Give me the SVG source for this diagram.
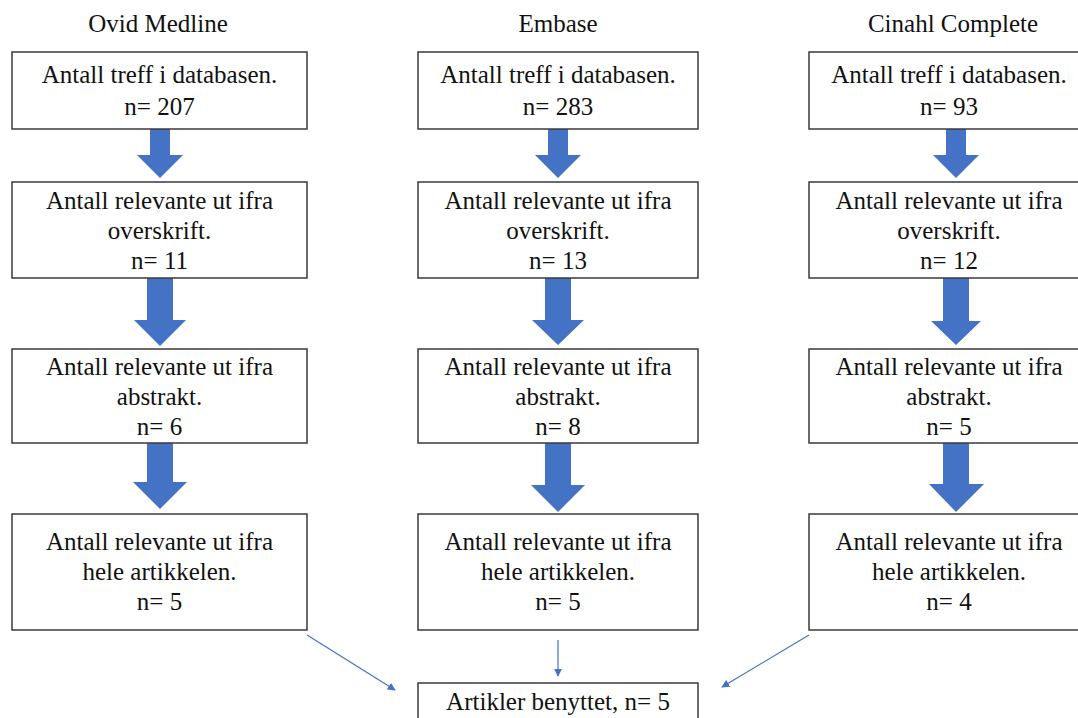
<svg xmlns="http://www.w3.org/2000/svg" width="1078" height="718" viewBox="0 0 1078 718">
<style>
.box{fill:#fff;stroke:#3a3a3a;stroke-width:1.5}
.t{font-family:'Liberation Serif','Times New Roman',serif;font-size:25px;fill:#111;text-anchor:middle}
.arr{fill:#4472C4}
.con{stroke:#4472C4;stroke-width:1.2;fill:none;marker-end:url(#ah)}
</style>
<defs>
<marker id="ah" viewBox="0 0 10 10" refX="9" refY="5" markerWidth="8" markerHeight="8" markerUnits="userSpaceOnUse" orient="auto">
<path d="M0,0 L10,5 L0,10 z" fill="#4472C4"/>
</marker>
</defs>
<rect width="1078" height="718" fill="#fff"/>
<g id="titles">
<text class="t" x="158" y="32">Ovid Medline</text>
<text class="t" x="558" y="32">Embase</text>
<text class="t" x="953" y="32">Cinahl Complete</text>
</g>
<g id="arrows">
<polygon class="arr" points="150,129 170,129 170,155 183,155 160,178 137,155 150,155"/>
<polygon class="arr" points="147,278 173,278 173,320 186,320 160,346 134,320 147,320"/>
<polygon class="arr" points="147,443 173,443 173,482 187,482 160,509 133,482 147,482"/>
<polygon class="arr" points="548,129 568,129 568,155 581,155 558,178 535,155 548,155"/>
<polygon class="arr" points="545,278 571,278 571,320 584,320 558,345 532,320 545,320"/>
<polygon class="arr" points="545,443 571,443 571,485 585,485 558,512 531,485 545,485"/>
<polygon class="arr" points="946,129 966,129 966,155 979,155 956,178 933,155 946,155"/>
<polygon class="arr" points="943,278 969,278 969,321 981,321 956,345 931,321 943,321"/>
<polygon class="arr" points="943,443 969,443 969,484 984,484 956,512 929,484 943,484"/>
</g>
<g id="connectors">
<line class="con" x1="307" y1="635" x2="395" y2="690"/>
<line class="con" x1="558" y1="640" x2="558" y2="676"/>
<line class="con" x1="809" y1="635" x2="722" y2="687"/>
</g>
<g id="medline-1"><rect class="box" x="12" y="52" width="295" height="77"/><text class="t" x="159.5" y="83">Antall treff i databasen.</text><text class="t" x="159.5" y="115">n= 207</text></g>
<g id="medline-2"><rect class="box" x="12" y="182" width="295" height="96"/><text class="t" x="159.5" y="209">Antall relevante ut ifra</text><text class="t" x="159.5" y="239">overskrift.</text><text class="t" x="159.5" y="269">n= 11</text></g>
<g id="medline-3"><rect class="box" x="12" y="349" width="295" height="94"/><text class="t" x="159.5" y="375">Antall relevante ut ifra</text><text class="t" x="159.5" y="405">abstrakt.</text><text class="t" x="159.5" y="435">n= 6</text></g>
<g id="medline-4"><rect class="box" x="12" y="514" width="295" height="116"/><text class="t" x="159.5" y="550">Antall relevante ut ifra</text><text class="t" x="159.5" y="580">hele artikkelen.</text><text class="t" x="159.5" y="610">n= 5</text></g>
<g id="embase-1"><rect class="box" x="418" y="52" width="280" height="77"/><text class="t" x="558" y="83">Antall treff i databasen.</text><text class="t" x="558" y="115">n= 283</text></g>
<g id="embase-2"><rect class="box" x="418" y="182" width="280" height="96"/><text class="t" x="558" y="209">Antall relevante ut ifra</text><text class="t" x="558" y="239">overskrift.</text><text class="t" x="558" y="269">n= 13</text></g>
<g id="embase-3"><rect class="box" x="418" y="349" width="280" height="94"/><text class="t" x="558" y="375">Antall relevante ut ifra</text><text class="t" x="558" y="405">abstrakt.</text><text class="t" x="558" y="435">n= 8</text></g>
<g id="embase-4"><rect class="box" x="418" y="514" width="280" height="116"/><text class="t" x="558" y="550">Antall relevante ut ifra</text><text class="t" x="558" y="580">hele artikkelen.</text><text class="t" x="558" y="610">n= 5</text></g>
<g id="cinahl-1"><rect class="box" x="809" y="52" width="290" height="77"/><text class="t" x="949" y="83">Antall treff i databasen.</text><text class="t" x="949" y="115">n= 93</text></g>
<g id="cinahl-2"><rect class="box" x="809" y="182" width="290" height="96"/><text class="t" x="949" y="209">Antall relevante ut ifra</text><text class="t" x="949" y="239">overskrift.</text><text class="t" x="949" y="269">n= 12</text></g>
<g id="cinahl-3"><rect class="box" x="809" y="349" width="290" height="94"/><text class="t" x="949" y="375">Antall relevante ut ifra</text><text class="t" x="949" y="405">abstrakt.</text><text class="t" x="949" y="435">n= 5</text></g>
<g id="cinahl-4"><rect class="box" x="809" y="514" width="290" height="116"/><text class="t" x="949" y="550">Antall relevante ut ifra</text><text class="t" x="949" y="580">hele artikkelen.</text><text class="t" x="949" y="610">n= 4</text></g>
<g id="result"><rect class="box" x="418" y="683" width="280" height="60"/><text class="t" x="558" y="710">Artikler benyttet, n= 5</text></g>
</svg>
